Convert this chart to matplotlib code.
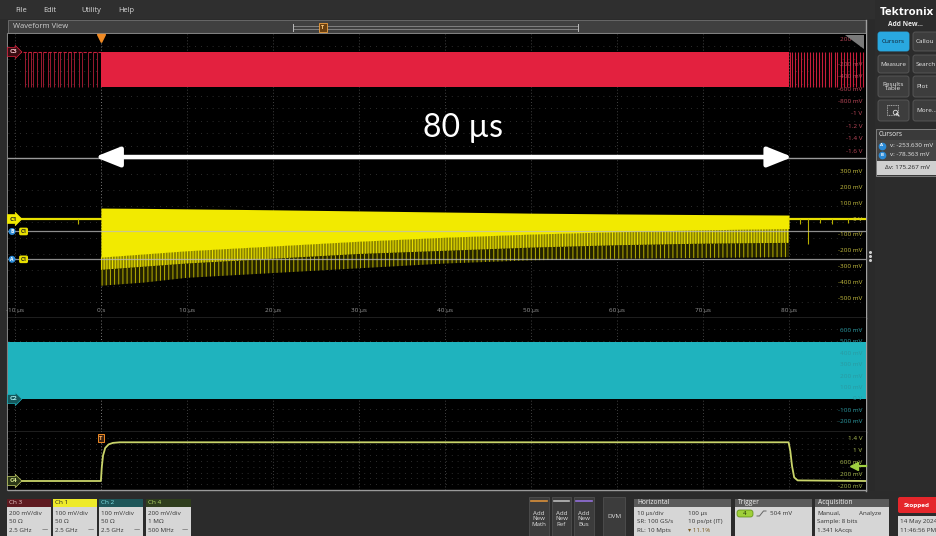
import matplotlib
matplotlib.use('Agg')
import matplotlib.pyplot as plt
import matplotlib.transforms as mtransforms
from matplotlib.patches import Rectangle, FancyBboxPatch, Polygon

W, H = 937, 536
plt.rcParams['font.family'] = ['Open Sans', 'DejaVu Sans']
plt.rcParams['hatch.linewidth'] = 0.7

# ---------------- data ----------------
time_tick_values = [-10, 0, 10, 20, 30, 40, 50, 60, 70, 80]
time_tick_labels = ['-10 µs', '0 s', '10 µs', '20 µs', '30 µs', '40 µs',
                    '50 µs', '60 µs', '70 µs', '80 µs']
time_window = (-10.8, 88.95)
measured_span = (0.0, 80.0)
span_label = '80 µs'

# Ch3 (red)
ch3_ylim = (-1.71, 0.29)
ch3_burst = (0.0, 80.0)
ch3_levels = (-0.565, 0.0)
ch3_spikes_before = [-8.8, -8.5, -8.1, -7.9, -7.4, -7.0, -6.7, -6.2, -5.9, -5.5,
                     -5.0, -4.7, -4.3, -3.8, -3.5, -3.1, -2.6, -2.2, -1.5, -0.9, -0.4]
ch3_spikes_after = [80.1, 80.4, 80.7, 81.0, 81.4, 81.7, 82.1, 82.4, 82.8, 83.1,
                    83.5, 83.8, 84.2, 84.6, 84.9, 85.3, 85.6, 86.0, 86.4, 86.7,
                    87.1, 87.4, 87.8, 88.2, 88.6]
ch3_scale_values = [0.2, -0.2, -0.4, -0.6, -0.8, -1.0, -1.2, -1.4, -1.6]
ch3_scale_labels = ['200 mV', '-200 mV', '-400 mV', '-600 mV', '-800 mV',
                    '-1 V', '-1.2 V', '-1.4 V', '-1.6 V']

# Ch1 (yellow)
ch1_ylim = (-0.623, 0.384)
ch1_env_time = [0, 5, 10, 20, 30, 40, 50, 60, 70, 80]
ch1_env_top = [0.069, 0.067, 0.064, 0.058, 0.051, 0.044, 0.037, 0.032, 0.028, 0.025]
ch1_env_core = [-0.24, -0.22, -0.20, -0.17, -0.14, -0.115, -0.095, -0.08, -0.068, -0.06]
ch1_env_mid = [-0.32, -0.30, -0.28, -0.25, -0.22, -0.20, -0.18, -0.165, -0.155, -0.15]
ch1_env_low = [-0.42, -0.40, -0.37, -0.34, -0.31, -0.28, -0.26, -0.25, -0.245, -0.24]
ch1_baseline = 0.0
ch1_glitch_time = [-2.7, 81.3, 82.2, 83.6, 85.0, 86.8]
ch1_glitch_depth = [-0.03, -0.03, -0.16, -0.025, -0.03, -0.025]
ch1_scale_values = [0.3, 0.2, 0.1, 0.0, -0.1, -0.2, -0.3, -0.4, -0.5]
ch1_scale_labels = ['300 mV', '200 mV', '100 mV', '0 V', '-100 mV', '-200 mV',
                    '-300 mV', '-400 mV', '-500 mV']
cursor_a_v = -0.253630
cursor_b_v = -0.078363

# Ch2 (cyan)
ch2_ylim = (-0.2895, 0.7105)
ch2_levels = (0.0, 0.50)
ch2_scale_values = [0.6, 0.5, 0.4, 0.3, 0.2, 0.1, 0.0, -0.1, -0.2]
ch2_scale_labels = ['600 mV', '500 mV', '400 mV', '300 mV', '200 mV', '100 mV',
                    '0 V', '-100 mV', '-200 mV']

# Ch4 (green)
ch4_ylim = (-0.30, 1.633)
ch4_time = [-10.8, 0.0, 0.1, 0.25, 0.5, 0.9, 1.4, 2.2, 79.95, 80.15, 80.35, 80.6, 81.0, 88.95]
ch4_volts = [0.0, 0.0, 0.45, 0.85, 1.10, 1.22, 1.27, 1.29, 1.29, 1.0, 0.5, 0.12, 0.02, 0.0]
ch4_scale_values = [1.4, 1.0, 0.6, 0.2, -0.2]
ch4_scale_labels = ['1.4 V', '1 V', '600 mV', '200 mV', '-200 mV']
trigger_level = 0.504

# ---------------- figure ----------------
fig = plt.figure(figsize=(W / 100, H / 100), dpi=100)
fig.patch.set_facecolor('#2b2b2b')

ui = fig.add_axes([0, 0, 1, 1], zorder=0)
ui.set_xlim(0, W)
ui.set_ylim(H, 0)
ui.axis('off')


def rect(x0, y0, x1, y1, fc, ec='none', lw=0.0, r=0.0, z=1, ls='-'):
    if r > 0:
        p = FancyBboxPatch((x0, y0), x1 - x0, y1 - y0,
                           boxstyle='round,pad=0,rounding_size=%g' % r,
                           fc=fc, ec=ec, lw=lw, zorder=z, ls=ls)
    else:
        p = Rectangle((x0, y0), x1 - x0, y1 - y0, fc=fc, ec=ec, lw=lw, zorder=z, ls=ls)
    ui.add_patch(p)


def txt(x, y, s, size=5, color='#dddddd', ha='left', va='center', weight='normal', z=3, **kw):
    ui.text(x, y, s, fontsize=size, color=color, ha=ha, va=va,
            fontweight=weight, zorder=z, **kw)


# menu bar
rect(0, 0, W, 19, '#2f2f2f')
for label, x in [('File', 15), ('Edit', 43), ('Utility', 81), ('Help', 118)]:
    txt(x, 11, label, 5.3, '#d8d8d8')

# waveform view header
rect(8, 20, 866, 33, '#404040', ec='#707070', lw=0.6)
txt(13, 27, 'Waveform View', 5.5, '#cfcfcf')
ui.plot([293, 578], [25.5, 25.5], color='#9a9a9a', lw=0.5, zorder=3)
ui.plot([293, 578], [29, 29], color='#9a9a9a', lw=0.5, zorder=3)
ui.plot([293, 293], [24, 30.5], color='#bbbbbb', lw=0.7, zorder=3)
ui.plot([578, 578], [24, 30.5], color='#bbbbbb', lw=0.7, zorder=3)
rect(319, 23, 327, 32, '#6a4010', ec='#f0a040', lw=0.6, z=4)
txt(323, 27.5, 'T', 4, '#ffcc80', ha='center', z=5, weight='bold')

# plot area frame & right separator
rect(7, 33, 867, 491, 'black', ec='#808080', lw=0.8)
rect(866, 20, 875, 491, '#2a2a2a')
ui.plot([866.5, 866.5], [20, 491], color='#a0a0a0', lw=1.0, zorder=3)
for yy in [252, 256, 260]:
    ui.plot([870.5], [yy], marker='o', ms=1.2, color='#cfcfcf', zorder=3)

# right panel
rect(875, 0, W, 491, '#2c2c2c')
txt(880, 12.5, 'Tektronix', 8.2, 'white', weight='bold')
txt(888, 25, 'Add New...', 4.8, '#e8e8e8', weight='bold')
buttons = [(32, 51, 'Cursors', 'Callou'), (55, 73, 'Measure', 'Search'),
           (76, 97, 'Results\nTable', 'Plot'), (100, 121, '', 'More...')]
for i, (y0, y1, left, right) in enumerate(buttons):
    fc = '#29a8e0' if i == 0 else '#3d3d3d'
    rect(878, y0, 909, y1, fc, ec='#5a5a5a' if i else '#29a8e0', lw=0.6, r=2.5)
    rect(913, y0, 945, y1, '#3d3d3d', ec='#5a5a5a', lw=0.6, r=2.5)
    txt(893.5, (y0 + y1) / 2, left, 4.6, '#102030' if i == 0 else '#e8e8e8',
        ha='center', linespacing=1.0)
    txt(916, (y0 + y1) / 2, right, 4.6, '#e8e8e8')
# zoom icon (dashed box + magnifier)
rect(887, 105, 898, 115, 'none', ec='#cfcfcf', lw=0.5, z=3, ls=(0, (1.5, 1)))
ui.plot([895], [112], marker='o', ms=3.2, mfc='none', mec='#dddddd', mew=0.6, zorder=4)
ui.plot([896.5, 899], [113.5, 116], color='#dddddd', lw=0.8, zorder=4)

# cursor readout box
rect(876, 129, W, 176, '#3a3a3a', ec='#8a8a8a', lw=0.6)
txt(879, 135, 'Cursors', 4.8, '#f0f0f0')
rect(877, 140, W, 161, '#454545')
rect(877, 161, W, 175, '#d0d0d0')
ui.plot([882], [145.5], marker='o', ms=4.5, color='#2b8ad6', zorder=4)
txt(882, 145.5, 'A', 3.2, 'white', ha='center', z=5, weight='bold')
ui.plot([882], [155], marker='o', ms=4.5, color='#2b8ad6', zorder=4)
txt(882, 155, 'B', 3.2, 'white', ha='center', z=5, weight='bold')
txt(890, 145.5, 'v: -253.630 mV', 4.6, '#e8e8e8')
txt(890, 155, 'v: -78.363 mV', 4.6, '#e8e8e8')
txt(885, 167.5, 'Δv: 175.267 mV', 4.6, '#222222')

# ---------------- channel panels ----------------
PX0, PX1 = 8, 866


def add_panel(y_top, y_bot, ylim, z=1):
    ax = fig.add_axes([PX0 / W, 1 - y_bot / H, (PX1 - PX0) / W, (y_bot - y_top) / H], zorder=z)
    ax.set_xlim(*time_window)
    ax.set_ylim(*ylim)
    ax.set_facecolor('black')
    ax.set_xticks([])
    ax.set_yticks([])
    for name, s in ax.spines.items():
        s.set_visible(name == 'bottom')
    ax.spines['bottom'].set_color('#9a9a9a')
    ax.spines['bottom'].set_linewidth(1.0)
    for t in time_tick_values:
        c = '#8a8a8a' if t == 0 else '#4a4a4a'
        ax.axvline(t, color=c, lw=0.6, ls=(0, (1.2, 2.5)), zorder=0.5)
    for k in range(1, 10):
        ax.plot([0, 1], [k / 10, k / 10], transform=ax.transAxes, color='#3c3c3c',
                lw=0.6, ls=(0, (1, 6)), zorder=0.5)
    return ax


def scale_labels(ax, values, labels, color):
    tr = mtransforms.blended_transform_factory(ax.transAxes, ax.transData)
    for v, lab in zip(values, labels):
        ax.text(0.9955, v, lab, transform=tr, ha='right', va='center',
                fontsize=4.6, color=color, zorder=6)


def flag(ax, yv, label, fc, ec, tc, xf=0.0015):
    tr = mtransforms.blended_transform_factory(ax.transAxes, ax.transData)
    ax.text(xf, yv, label, transform=tr, fontsize=4.6, color=tc, ha='left', va='center',
            fontweight='bold', zorder=8,
            bbox=dict(boxstyle='rarrow,pad=0.3', fc=fc, ec=ec, lw=0.5))


ax3 = add_panel(34, 158, ch3_ylim, z=2)
ax1 = add_panel(158, 318, ch1_ylim)
ax2 = add_panel(318, 432, ch2_ylim)
ax4 = add_panel(432, 490, ch4_ylim)

# --- Ch3
ax3.fill_between(list(ch3_burst), ch3_levels[0], ch3_levels[1], color='#e3213f', lw=0, zorder=2)
ax3.vlines(ch3_spikes_before, ch3_levels[0], ch3_levels[1], color='#9a1a30', lw=0.7, zorder=2)
ax3.vlines(ch3_spikes_after, ch3_levels[0], ch3_levels[1], color='#c81e3a', lw=0.8, zorder=2)
ax3.plot([time_window[0], ch3_burst[0]], [ch3_levels[1]] * 2, color='#c81e3a', lw=0.8,
         ls=(0, (3, 1.5)), zorder=2)
scale_labels(ax3, ch3_scale_values, ch3_scale_labels, '#c04a5c')
flag(ax3, ch3_levels[1], 'C3', '#3a0d12', '#e3213f', '#f0c0c8')
trx = mtransforms.blended_transform_factory(ax3.transData, ax3.transAxes)
ax3.plot([0], [0.97], marker='v', ms=6, color='#f08a24', transform=trx, clip_on=False, zorder=9)
ax3.add_patch(Polygon([[0.976, 0.99], [0.998, 0.99], [0.998, 0.88]], closed=True,
                      transform=ax3.transAxes, fc='#7a7a7a', ec='none', zorder=7))
ann = ax3.annotate('', xy=(measured_span[1] + 0.4, -1.694), xytext=(measured_span[0] - 0.7, -1.694),
                   arrowprops=dict(arrowstyle='<|-|>,head_length=0.75,head_width=0.3',
                                   lw=3.2, color='white', shrinkA=0, shrinkB=0,
                                   mutation_scale=20),
                   annotation_clip=False, zorder=10)
ann.arrow_patch.set_clip_on(False)
ax3.text(sum(measured_span) / 2 + 2.1, -1.226, span_label, fontsize=23, color='white',
         ha='center', va='center', family=['Lato', 'DejaVu Sans'], zorder=10)

# --- Ch1 (burst drawn as density layers: sparse spikes, dense spikes, solid core)
ax1.fill_between(ch1_env_time, ch1_env_low, ch1_env_mid, facecolor='#242200',
                 edgecolor='#b8b000', hatch='||||', lw=0, zorder=2)
ax1.fill_between(ch1_env_time, ch1_env_mid, ch1_env_core, facecolor='#8a8300',
                 edgecolor='#ece400', hatch='||||||', lw=0, zorder=2)
ax1.fill_between(ch1_env_time, ch1_env_core, ch1_env_top, color='#f2ea00', lw=0, zorder=2)
ax1.plot([time_window[0], ch1_env_time[0]], [ch1_baseline] * 2, color='#e8e000', lw=1.6, zorder=2)
ax1.plot([ch1_env_time[-1], time_window[1]], [ch1_baseline] * 2, color='#e8e000', lw=1.6, zorder=2)
ax1.vlines(ch1_glitch_time, ch1_glitch_depth, ch1_baseline, color='#b8b000', lw=0.8, zorder=2)
for cv in (cursor_a_v, cursor_b_v):
    ax1.axhline(cv, color='#bdbdbd', lw=0.9, alpha=0.75, zorder=3)
scale_labels(ax1, ch1_scale_values, ch1_scale_labels, '#c8c040')
flag(ax1, ch1_baseline, 'C1', '#f2ea00', '#f2ea00', '#222222')
tr1 = mtransforms.blended_transform_factory(ax1.transAxes, ax1.transData)
for cv, lab in ((cursor_b_v, 'B'), (cursor_a_v, 'A')):
    ax1.text(0.0047, cv, lab, transform=tr1, fontsize=3.6, color='white', ha='center',
             va='center', fontweight='bold', zorder=8,
             bbox=dict(boxstyle='circle,pad=0.2', fc='#2b8ad6', ec='none'))
    ax1.text(0.0145, cv, 'C1', transform=tr1, fontsize=3.8, color='#222222', ha='left',
             va='center', fontweight='bold', zorder=8,
             bbox=dict(boxstyle='round,pad=0.25,rounding_size=0.3', fc='#e8e000', ec='none'))
trt = mtransforms.blended_transform_factory(ax1.transData, ax1.transAxes)
for t, lab in zip(time_tick_values, time_tick_labels):
    ax1.text(t, 0.044, lab, transform=trt, ha='center', va='center', fontsize=4.6,
             color='#9a9a9a', zorder=6)

# --- Ch2
ax2.fill_between(list(time_window), ch2_levels[0], ch2_levels[1], color='#1fb3be', lw=0, zorder=2)
scale_labels(ax2, ch2_scale_values, ch2_scale_labels, '#2a9aa2')
flag(ax2, ch2_levels[0], 'C2', '#15585c', '#1fb3be', '#a8eef0')

# --- Ch4
ax4.plot(ch4_time, ch4_volts, color='#c9d46a', lw=1.3, zorder=3)
scale_labels(ax4, ch4_scale_values, ch4_scale_labels, '#aabb50')
flag(ax4, 0.0, 'C4', '#2c3818', '#c9d46a', '#d8e890')
ax4.text(0, 1.43, 'T', fontsize=4.2, color='#ffb060', ha='center', va='center',
         fontweight='bold', zorder=9,
         bbox=dict(boxstyle='square,pad=0.25', fc='#3a2210', ec='#f08a24', lw=0.7))
ax4.plot([time_window[1] - 1.2, time_window[1]], [trigger_level] * 2, color='#a0d040',
         lw=1.6, zorder=7, clip_on=False)
ax4.plot([time_window[1] - 1.4], [trigger_level], marker='<', ms=5.5, color='#a0d040',
         zorder=7, clip_on=False)

# ---------------- bottom bar ----------------
rect(0, 491, W, H, '#2b2b2b')
channels = [(7, 51, 'Ch 3', '#5e1a20', '#f0d0d0', ['200 mV/div', '50 Ω', '2.5 GHz']),
            (53, 97, 'Ch 1', '#eeea2a', '#222222', ['100 mV/div', '50 Ω', '2.5 GHz']),
            (99, 143, 'Ch 2', '#1e5558', '#7fe3e8', ['100 mV/div', '50 Ω', '2.5 GHz']),
            (146, 191, 'Ch 4', '#2f3d1d', '#b8de6a', ['200 mV/div', '1 MΩ', '500 MHz'])]
for x0, x1, name, hc, tc, lines in channels:
    rect(x0, 499, x1, 507, hc)
    rect(x0, 507, x1, H, '#d6d6d6')
    txt(x0 + 2, 503, name, 4.6, tc)
    for k, s in enumerate(lines):
        txt(x0 + 2, 513.5 + 8.3 * k, s, 4.5, '#333333')
    txt(x1 - 3, 529.5, '⁓', 4.5, '#333333', ha='right')

for x0, x1, col, lab in [(529, 549, '#d9903a', 'Add\nNew\nMath'),
                         (552, 571, '#bbbbbb', 'Add\nNew\nRef'),
                         (574, 594, '#9370db', 'Add\nNew\nBus')]:
    rect(x0, 497, x1, H, '#3c3c3c', ec='#555555', lw=0.5)
    ui.plot([x0 + 2, x1 - 2], [500.5, 500.5], color=col, lw=1.2, zorder=3)
    txt((x0 + x1) / 2, 519, lab, 4.4, '#dddddd', ha='center', linespacing=1.05)
rect(603, 497, 625, H, '#3c3c3c', ec='#555555', lw=0.5)
txt(614, 516, 'DVM', 4.6, '#dddddd', ha='center')

# Horizontal
rect(634, 499, 731, 507, '#5a5a5a')
rect(634, 507, 731, H, '#d6d6d6')
txt(637, 503, 'Horizontal', 4.8, '#f0f0f0')
for k, (a, b) in enumerate([('10 µs/div', '100 µs'), ('SR: 100 GS/s', '10 ps/pt (IT)'),
                            ('RL: 10 Mpts', '▾ 11.1%')]):
    txt(637, 513.5 + 8.3 * k, a, 4.5, '#333333')
    txt(688, 513.5 + 8.3 * k, b, 4.5, '#333333' if k < 2 else '#7a5a20')

# Trigger
rect(735, 499, 812, 507, '#5a5a5a')
rect(735, 507, 812, H, '#d6d6d6')
txt(738, 503, 'Trigger', 4.8, '#f0f0f0')
rect(737, 510, 753, 517, '#9fd03a', ec='#5a8a10', lw=0.5, r=2.5)
txt(745, 513.5, '4', 4.4, '#1a2a05', ha='center')
ui.plot([757, 759.5, 763.5, 766], [516, 516, 511, 511], color='#666666', lw=0.7, zorder=3)
txt(770, 513.5, '504 mV', 4.5, '#333333')

# Acquisition
rect(815, 499, 889, 507, '#5a5a5a')
rect(815, 507, 889, H, '#d6d6d6')
txt(818, 503, 'Acquisition', 4.8, '#f0f0f0')
txt(817, 513.5, 'Manual,', 4.5, '#333333')
txt(859, 513.5, 'Analyze', 4.5, '#333333')
txt(817, 521.8, 'Sample: 8 bits', 4.5, '#333333')
txt(817, 530.1, '1.341 kAcqs', 4.5, '#333333')

# Stopped + date
rect(898, 497, W + 3, 513, '#e5262b', r=2)
txt(904, 505, 'Stopped', 4.6, 'white', weight='bold')
rect(898, 516, W + 3, H, '#d6d6d6')
txt(900, 522, '14 May 2024', 4.5, '#333333')
txt(900, 530, '11:46:56 PM', 4.5, '#333333')

fig.savefig('out.png', dpi=100, facecolor=fig.get_facecolor())
